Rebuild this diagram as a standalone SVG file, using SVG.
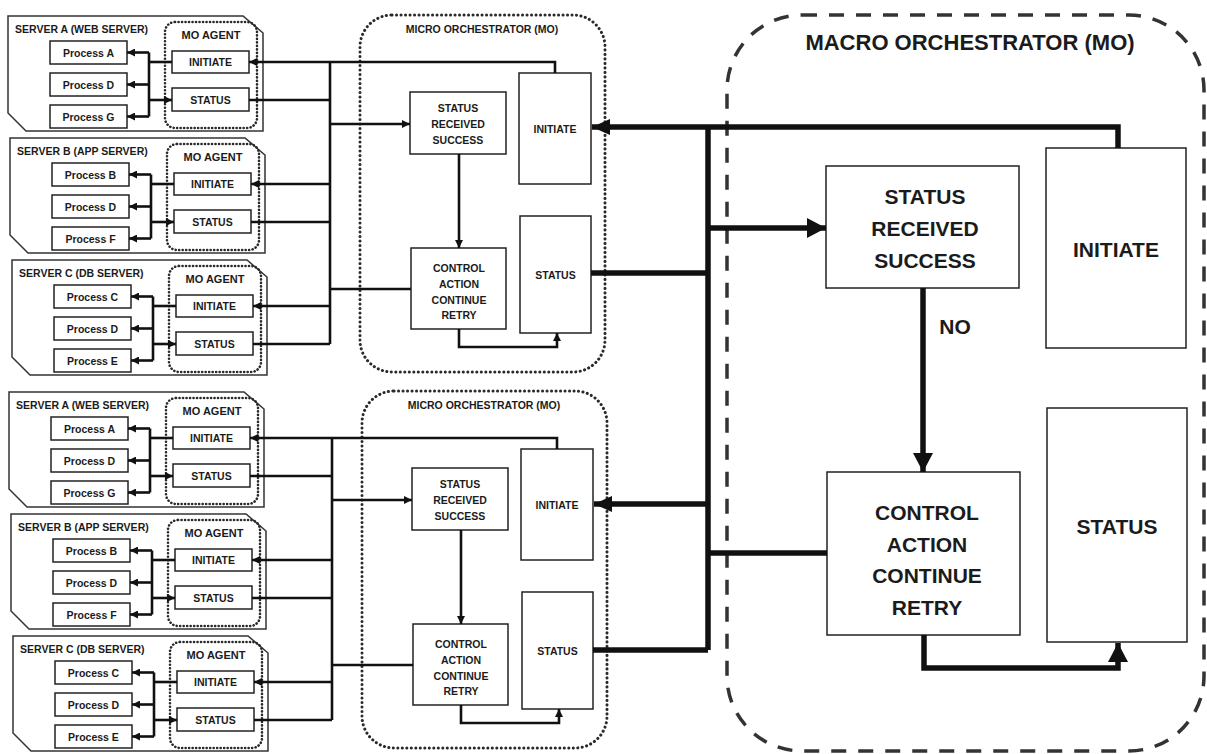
<svg xmlns="http://www.w3.org/2000/svg" width="1207" height="754" viewBox="0 0 1207 754">
  <style>
    .bg { fill: #ffffff; }
    .box { fill: #ffffff; stroke: #222; stroke-width: 1.5; }
    .srv { fill: #ffffff; stroke: #333; stroke-width: 1.5; }
    .t { font-family: 'Liberation Sans', Arial, sans-serif; font-weight: 700; fill: #1b1b1b; text-anchor: middle; }
    .ts { font-size: 10.5px; }
    .tl { text-anchor: start; }
    .tb { font-size: 21px; }
    .ln { fill: none; stroke: #111; stroke-width: 2.6; }
    .thk { fill: none; stroke: #111; stroke-width: 5.5; }
    .dot { fill: none; stroke: #2a2a2a; stroke-width: 2.6; stroke-dasharray: 0.1 3.4; stroke-linecap: round; }
    .mdot { fill: none; stroke: #2a2a2a; stroke-width: 3; stroke-dasharray: 0.1 4.4; stroke-linecap: round; }
    .dash { fill: none; stroke: #333; stroke-width: 3.5; stroke-dasharray: 15 12; }
  </style>
  <defs>
    <marker id="arr-s" viewBox="0 0 8 8" markerWidth="8" markerHeight="8" refX="8" refY="4" orient="auto" markerUnits="userSpaceOnUse">
      <path d="M0,0 L8,4 L0,8 Z" fill="#111"/>
    </marker>
    <marker id="arr-m" viewBox="0 0 18 16" markerWidth="18" markerHeight="16" refX="18" refY="8" orient="auto" markerUnits="userSpaceOnUse">
      <path d="M0,0 L18,8 L0,16 Z" fill="#111"/>
    </marker>
    <marker id="arr-l" viewBox="0 0 19 20" markerWidth="19" markerHeight="20" refX="19" refY="10" orient="auto" markerUnits="userSpaceOnUse">
      <path d="M0,0 L19,10 L0,20 Z" fill="#111"/>
    </marker>
  </defs>

  <rect class="bg" x="0" y="0" width="1207" height="754"/>

  <!-- Upper server cluster -->
  <g id="server-a1" transform="translate(8,16)">
    <path class="srv" d="M0,0 H235 L255,17 V115 H18 L0,97 Z"/>
    <text class="t ts tl" x="7" y="17">SERVER A (WEB SERVER)</text>
    <rect class="dot" x="157" y="6" width="92" height="106" rx="10"/>
    <text class="t" x="203" y="23" font-size="11">MO AGENT</text>
    <rect class="box" x="42" y="25" width="77" height="23"/>
    <text class="t ts" x="80.5" y="41">Process A</text>
    <rect class="box" x="42" y="57" width="77" height="23"/>
    <text class="t ts" x="80.5" y="73">Process D</text>
    <rect class="box" x="42" y="89" width="77" height="23"/>
    <text class="t ts" x="80.5" y="105">Process G</text>
    <rect class="box" x="164" y="35" width="77" height="22"/>
    <text class="t ts" x="202.5" y="50">INITIATE</text>
    <rect class="box" x="164" y="72" width="77" height="23"/>
    <text class="t ts" x="202.5" y="88">STATUS</text>
  </g>
  <g id="server-b1" transform="translate(10,138)">
    <path class="srv" d="M0,0 H235 L255,17 V115 H18 L0,97 Z"/>
    <text class="t ts tl" x="7" y="17">SERVER B (APP SERVER)</text>
    <rect class="dot" x="157" y="6" width="92" height="106" rx="10"/>
    <text class="t" x="203" y="23" font-size="11">MO AGENT</text>
    <rect class="box" x="42" y="25" width="77" height="23"/>
    <text class="t ts" x="80.5" y="41">Process B</text>
    <rect class="box" x="42" y="57" width="77" height="23"/>
    <text class="t ts" x="80.5" y="73">Process D</text>
    <rect class="box" x="42" y="89" width="77" height="23"/>
    <text class="t ts" x="80.5" y="105">Process F</text>
    <rect class="box" x="164" y="35" width="77" height="22"/>
    <text class="t ts" x="202.5" y="50">INITIATE</text>
    <rect class="box" x="164" y="72" width="77" height="23"/>
    <text class="t ts" x="202.5" y="88">STATUS</text>
  </g>
  <g id="server-c1" transform="translate(12,260)">
    <path class="srv" d="M0,0 H235 L255,17 V115 H18 L0,97 Z"/>
    <text class="t ts tl" x="7" y="17">SERVER C (DB SERVER)</text>
    <rect class="dot" x="157" y="6" width="92" height="106" rx="10"/>
    <text class="t" x="203" y="23" font-size="11">MO AGENT</text>
    <rect class="box" x="42" y="25" width="77" height="23"/>
    <text class="t ts" x="80.5" y="41">Process C</text>
    <rect class="box" x="42" y="57" width="77" height="23"/>
    <text class="t ts" x="80.5" y="73">Process D</text>
    <rect class="box" x="42" y="89" width="77" height="23"/>
    <text class="t ts" x="80.5" y="105">Process E</text>
    <rect class="box" x="164" y="35" width="77" height="22"/>
    <text class="t ts" x="202.5" y="50">INITIATE</text>
    <rect class="box" x="164" y="72" width="77" height="23"/>
    <text class="t ts" x="202.5" y="88">STATUS</text>
  </g>

  <!-- Lower server cluster -->
  <g id="server-a2" transform="translate(9,392)">
    <path class="srv" d="M0,0 H235 L255,17 V115 H18 L0,97 Z"/>
    <text class="t ts tl" x="7" y="17">SERVER A (WEB SERVER)</text>
    <rect class="dot" x="157" y="6" width="92" height="106" rx="10"/>
    <text class="t" x="203" y="23" font-size="11">MO AGENT</text>
    <rect class="box" x="42" y="25" width="77" height="23"/>
    <text class="t ts" x="80.5" y="41">Process A</text>
    <rect class="box" x="42" y="57" width="77" height="23"/>
    <text class="t ts" x="80.5" y="73">Process D</text>
    <rect class="box" x="42" y="89" width="77" height="23"/>
    <text class="t ts" x="80.5" y="105">Process G</text>
    <rect class="box" x="164" y="35" width="77" height="22"/>
    <text class="t ts" x="202.5" y="50">INITIATE</text>
    <rect class="box" x="164" y="72" width="77" height="23"/>
    <text class="t ts" x="202.5" y="88">STATUS</text>
  </g>
  <g id="server-b2" transform="translate(11,514)">
    <path class="srv" d="M0,0 H235 L255,17 V115 H18 L0,97 Z"/>
    <text class="t ts tl" x="7" y="17">SERVER B (APP SERVER)</text>
    <rect class="dot" x="157" y="6" width="92" height="106" rx="10"/>
    <text class="t" x="203" y="23" font-size="11">MO AGENT</text>
    <rect class="box" x="42" y="25" width="77" height="23"/>
    <text class="t ts" x="80.5" y="41">Process B</text>
    <rect class="box" x="42" y="57" width="77" height="23"/>
    <text class="t ts" x="80.5" y="73">Process D</text>
    <rect class="box" x="42" y="89" width="77" height="23"/>
    <text class="t ts" x="80.5" y="105">Process F</text>
    <rect class="box" x="164" y="35" width="77" height="22"/>
    <text class="t ts" x="202.5" y="50">INITIATE</text>
    <rect class="box" x="164" y="72" width="77" height="23"/>
    <text class="t ts" x="202.5" y="88">STATUS</text>
  </g>
  <g id="server-c2" transform="translate(13,636)">
    <path class="srv" d="M0,0 H235 L255,17 V115 H18 L0,97 Z"/>
    <text class="t ts tl" x="7" y="17">SERVER C (DB SERVER)</text>
    <rect class="dot" x="157" y="6" width="92" height="106" rx="10"/>
    <text class="t" x="203" y="23" font-size="11">MO AGENT</text>
    <rect class="box" x="42" y="25" width="77" height="23"/>
    <text class="t ts" x="80.5" y="41">Process C</text>
    <rect class="box" x="42" y="57" width="77" height="23"/>
    <text class="t ts" x="80.5" y="73">Process D</text>
    <rect class="box" x="42" y="89" width="77" height="23"/>
    <text class="t ts" x="80.5" y="105">Process E</text>
    <rect class="box" x="164" y="35" width="77" height="22"/>
    <text class="t ts" x="202.5" y="50">INITIATE</text>
    <rect class="box" x="164" y="72" width="77" height="23"/>
    <text class="t ts" x="202.5" y="88">STATUS</text>
  </g>

  <!-- Micro orchestrators -->
  <g id="micro-1">
    <rect class="mdot" x="360" y="15" width="245" height="357" rx="32"/>
    <text class="t ts" x="482" y="33">MICRO ORCHESTRATOR (MO)</text>
    <g id="micro-1-srs">
      <rect class="box" x="410" y="92" width="96" height="62"/>
      <text class="t ts" x="458"><tspan x="458" y="112">STATUS</tspan><tspan x="458" y="128">RECEIVED</tspan><tspan x="458" y="144">SUCCESS</tspan></text>
    </g>
    <g id="micro-1-initiate">
      <rect class="box" x="519" y="73" width="72" height="111"/>
      <text class="t ts" x="555" y="133">INITIATE</text>
    </g>
    <g id="micro-1-control">
      <rect class="box" x="411" y="248" width="95" height="81"/>
      <text class="t ts" x="459"><tspan x="459" y="272">CONTROL</tspan><tspan x="459" y="288">ACTION</tspan><tspan x="459" y="304">CONTINUE</tspan><tspan x="459" y="319">RETRY</tspan></text>
    </g>
    <g id="micro-1-status">
      <rect class="box" x="520" y="216" width="71" height="117"/>
      <text class="t ts" x="555.5" y="279">STATUS</text>
    </g>
  </g>
  <g id="micro-2" transform="translate(2,376)">
    <rect class="mdot" x="360" y="15" width="245" height="357" rx="32"/>
    <text class="t ts" x="482" y="33">MICRO ORCHESTRATOR (MO)</text>
    <g id="micro-2-srs">
      <rect class="box" x="410" y="92" width="96" height="62"/>
      <text class="t ts" x="458"><tspan x="458" y="112">STATUS</tspan><tspan x="458" y="128">RECEIVED</tspan><tspan x="458" y="144">SUCCESS</tspan></text>
    </g>
    <g id="micro-2-initiate">
      <rect class="box" x="519" y="73" width="72" height="111"/>
      <text class="t ts" x="555" y="133">INITIATE</text>
    </g>
    <g id="micro-2-control">
      <rect class="box" x="411" y="248" width="95" height="81"/>
      <text class="t ts" x="459"><tspan x="459" y="272">CONTROL</tspan><tspan x="459" y="288">ACTION</tspan><tspan x="459" y="304">CONTINUE</tspan><tspan x="459" y="319">RETRY</tspan></text>
    </g>
    <g id="micro-2-status">
      <rect class="box" x="520" y="216" width="71" height="117"/>
      <text class="t ts" x="555.5" y="279">STATUS</text>
    </g>
  </g>

  <!-- Macro orchestrator -->
  <g id="macro">
    <rect class="dash" x="727" y="15" width="477" height="736" rx="75"/>
    <text class="t" x="970" y="50" font-size="22">MACRO ORCHESTRATOR (MO)</text>
    <g id="macro-srs">
      <rect class="box" x="826" y="166" width="193" height="122" stroke-width="2"/>
      <text class="t tb" x="925"><tspan x="925" y="204">STATUS</tspan><tspan x="925" y="236">RECEIVED</tspan><tspan x="925" y="268">SUCCESS</tspan></text>
    </g>
    <g id="macro-initiate">
      <rect class="box" x="1046" y="148" width="140" height="200" stroke-width="2"/>
      <text class="t tb" x="1116" y="257">INITIATE</text>
    </g>
    <g id="macro-control">
      <rect class="box" x="827" y="472" width="193" height="163" stroke-width="2"/>
      <text class="t tb" x="927"><tspan x="927" y="520">CONTROL</tspan><tspan x="927" y="552">ACTION</tspan><tspan x="927" y="583">CONTINUE</tspan><tspan x="927" y="615">RETRY</tspan></text>
    </g>
    <g id="macro-status">
      <rect class="box" x="1047" y="408" width="140" height="234" stroke-width="2"/>
      <text class="t tb" x="1117" y="534">STATUS</text>
    </g>
  </g>

  <g id="connectors">
    <!-- inside each server: agent to processes, processes to agent status -->
    <g transform="translate(8,16)">
      <path class="ln" d="M141,36.5 V100.5"/>
      <path class="ln" d="M141,36.5 H119" marker-end="url(#arr-s)"/>
      <path class="ln" d="M141,68.5 H119" marker-end="url(#arr-s)"/>
      <path class="ln" d="M141,100.5 H119" marker-end="url(#arr-s)"/>
      <path class="ln" d="M164,46 H141"/>
      <path class="ln" d="M141,84 H164" marker-end="url(#arr-s)"/>
    </g>
    <g transform="translate(10,138)">
      <path class="ln" d="M141,36.5 V100.5"/>
      <path class="ln" d="M141,36.5 H119" marker-end="url(#arr-s)"/>
      <path class="ln" d="M141,68.5 H119" marker-end="url(#arr-s)"/>
      <path class="ln" d="M141,100.5 H119" marker-end="url(#arr-s)"/>
      <path class="ln" d="M164,46 H141"/>
      <path class="ln" d="M141,84 H164" marker-end="url(#arr-s)"/>
    </g>
    <g transform="translate(12,260)">
      <path class="ln" d="M141,36.5 V100.5"/>
      <path class="ln" d="M141,36.5 H119" marker-end="url(#arr-s)"/>
      <path class="ln" d="M141,68.5 H119" marker-end="url(#arr-s)"/>
      <path class="ln" d="M141,100.5 H119" marker-end="url(#arr-s)"/>
      <path class="ln" d="M164,46 H141"/>
      <path class="ln" d="M141,84 H164" marker-end="url(#arr-s)"/>
    </g>
    <g transform="translate(9,392)">
      <path class="ln" d="M141,36.5 V100.5"/>
      <path class="ln" d="M141,36.5 H119" marker-end="url(#arr-s)"/>
      <path class="ln" d="M141,68.5 H119" marker-end="url(#arr-s)"/>
      <path class="ln" d="M141,100.5 H119" marker-end="url(#arr-s)"/>
      <path class="ln" d="M164,46 H141"/>
      <path class="ln" d="M141,84 H164" marker-end="url(#arr-s)"/>
    </g>
    <g transform="translate(11,514)">
      <path class="ln" d="M141,36.5 V100.5"/>
      <path class="ln" d="M141,36.5 H119" marker-end="url(#arr-s)"/>
      <path class="ln" d="M141,68.5 H119" marker-end="url(#arr-s)"/>
      <path class="ln" d="M141,100.5 H119" marker-end="url(#arr-s)"/>
      <path class="ln" d="M164,46 H141"/>
      <path class="ln" d="M141,84 H164" marker-end="url(#arr-s)"/>
    </g>
    <g transform="translate(13,636)">
      <path class="ln" d="M141,36.5 V100.5"/>
      <path class="ln" d="M141,36.5 H119" marker-end="url(#arr-s)"/>
      <path class="ln" d="M141,68.5 H119" marker-end="url(#arr-s)"/>
      <path class="ln" d="M141,100.5 H119" marker-end="url(#arr-s)"/>
      <path class="ln" d="M164,46 H141"/>
      <path class="ln" d="M141,84 H164" marker-end="url(#arr-s)"/>
    </g>

    <!-- upper bus between agents and micro orchestrator 1 -->
    <path class="ln" d="M330,62 V344"/>
    <path class="ln" d="M555,73 V62 H249" marker-end="url(#arr-s)"/>
    <path class="ln" d="M330,184 H251" marker-end="url(#arr-s)"/>
    <path class="ln" d="M330,306 H253" marker-end="url(#arr-s)"/>
    <path class="ln" d="M249,100 H330"/>
    <path class="ln" d="M251,222 H330"/>
    <path class="ln" d="M253,344 H330"/>
    <path class="ln" d="M330,124 H410" marker-end="url(#arr-s)"/>
    <path class="ln" d="M330,289 H411"/>

    <!-- lower bus between agents and micro orchestrator 2 -->
    <path class="ln" d="M332,438 V720"/>
    <path class="ln" d="M557,449 V438 H250" marker-end="url(#arr-s)"/>
    <path class="ln" d="M332,560 H252" marker-end="url(#arr-s)"/>
    <path class="ln" d="M332,682 H254" marker-end="url(#arr-s)"/>
    <path class="ln" d="M250,476 H332"/>
    <path class="ln" d="M252,598 H332"/>
    <path class="ln" d="M254,720 H332"/>
    <path class="ln" d="M332,500 H412" marker-end="url(#arr-s)"/>
    <path class="ln" d="M332,665 H413"/>

    <!-- inside micro orchestrators -->
    <path class="ln" d="M459,154 V248" marker-end="url(#arr-s)"/>
    <path class="ln" d="M459,329 V347 H557 V333" marker-end="url(#arr-s)"/>
    <path class="ln" d="M461,530 V624" marker-end="url(#arr-s)"/>
    <path class="ln" d="M461,705 V723 H559 V709" marker-end="url(#arr-s)"/>

    <!-- macro bus -->
    <path class="thk" d="M708,127 V650"/>
    <path class="thk" d="M1118,148 V127 H592" marker-end="url(#arr-m)"/>
    <path class="thk" d="M591,273 H708"/>
    <path class="thk" d="M708,504 H594" marker-end="url(#arr-m)"/>
    <path class="thk" d="M593,650 H708"/>
    <path class="thk" d="M708,228 H826" marker-end="url(#arr-l)"/>
    <path class="thk" d="M708,553 H827"/>

    <!-- inside macro orchestrator -->
    <path class="thk" d="M923,288 V472" marker-end="url(#arr-l)"/>
    <path class="thk" d="M924,635 V668 H1118 V643" marker-end="url(#arr-l)"/>
  </g>

  <text class="t tb" x="955" y="334">NO</text>
</svg>
